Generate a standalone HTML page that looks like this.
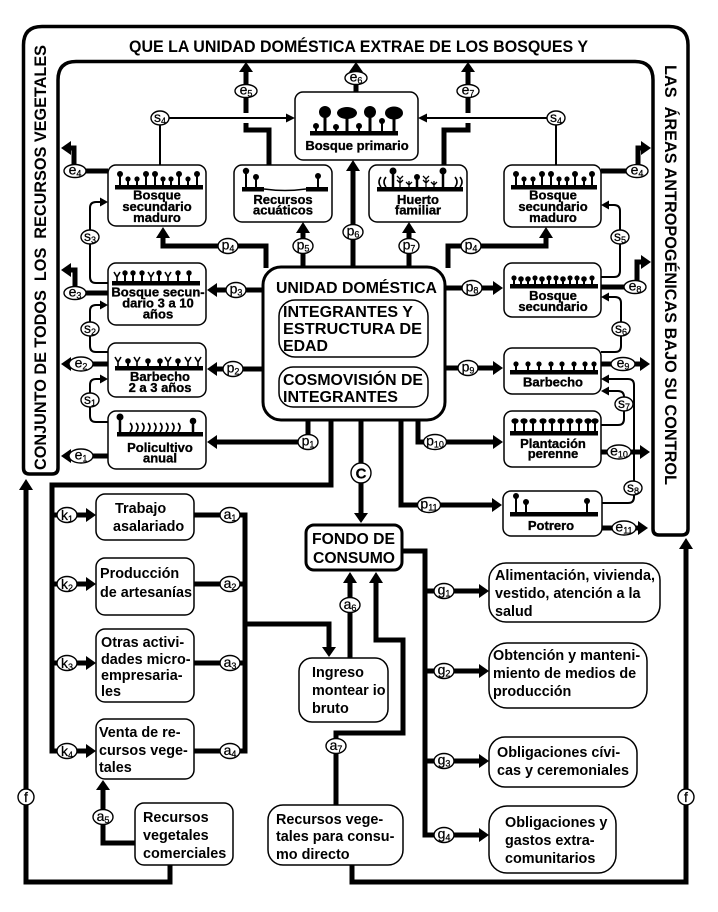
<!DOCTYPE html>
<html><head><meta charset="utf-8">
<style>
html,body{margin:0;padding:0;background:#fff;}
svg{display:block;}
text{font-family:"Liberation Sans",Arial,sans-serif;fill:#000;}
.b{font-weight:bold;}
.hv{font-weight:bold;stroke:#000;stroke-width:0.35;}
.t{stroke:#000;stroke-width:5;fill:none;stroke-linejoin:miter;}
.n{stroke:#000;stroke-width:2;fill:none;}
.bx{fill:#fff;stroke:#000;stroke-width:1.5;}
.lb ellipse,.lb circle{fill:#fff;stroke:#000;stroke-width:1.4;}
.lb text{stroke:#000;stroke-width:0.25;}
</style></head><body>
<svg width="718" height="912" viewBox="0 0 718 912" xmlns="http://www.w3.org/2000/svg">
<defs>
<g id="T"><path d="M0,0V-11" stroke="#000" stroke-width="2"/><circle cy="-11" r="3"/></g>
<g id="S"><path d="M0,0V-6" stroke="#000" stroke-width="2"/><circle cy="-6" r="2.6"/></g>
<g id="M"><path d="M0,0V-8" stroke="#000" stroke-width="2"/><circle cy="-8" r="2.7"/></g>
<g id="Y"><path d="M0,0V-5M-3,-9L0,-4L3,-9" stroke="#000" stroke-width="1.6" fill="none"/></g>
<g id="P"><path d="M0,0V-10" stroke="#000" stroke-width="2"/><ellipse cy="-10" rx="3.6" ry="2.8"/></g>
<g id="B"><path d="M0,0V-5" stroke="#000" stroke-width="2"/><circle cy="-5" r="2.8"/></g>
</defs>

<!-- FRAME -->
<path d="M58,468 L58,80 Q58,61.5 76,61.5 L635,61.5 Q653,61.5 653,80 L653,529 Q653,535 659,535 L682,535 Q688,535 688,529 L688,45 Q688,26.5 669,26.5 L42,26.5 Q23.5,26.5 23.5,45 L23.5,468 Q23.5,474 29.5,474 L52,474 Q58,474 58,468 Z" fill="none" stroke="#000" stroke-width="3.5"/>
<text x="129" y="52" font-size="16.5" class="b" textLength="459" lengthAdjust="spacingAndGlyphs">QUE LA UNIDAD DOMÉSTICA EXTRAE DE LOS BOSQUES Y</text>
<text transform="translate(46,470) rotate(-90)" font-size="16.5" class="b" textLength="425" lengthAdjust="spacingAndGlyphs" xml:space="preserve">CONJUNTO DE TODOS  LOS  RECURSOS VEGETALES</text>
<text transform="translate(665,65) rotate(90)" font-size="16.5" class="b" textLength="420" lengthAdjust="spacingAndGlyphs" xml:space="preserve">LAS  ÁREAS ANTROPOGÉNICAS BAJO SU CONTROL</text>

<!-- BOXES -->
<rect class="bx" x="295" y="92" width="123" height="68" rx="8"/>
<rect class="bx" x="234" y="165" width="98" height="57" rx="8"/>
<rect class="bx" x="369" y="165" width="98" height="57" rx="8"/>
<rect class="bx" x="108" y="165" width="98" height="61" rx="8"/>
<rect class="bx" x="504" y="165" width="97" height="62" rx="8"/>
<rect class="bx" x="108" y="263" width="98" height="62" rx="8"/>
<rect class="bx" x="108" y="343" width="98" height="54" rx="8"/>
<rect class="bx" x="108" y="411" width="98" height="58" rx="8"/>
<rect class="bx" x="504" y="263" width="97" height="54" rx="8"/>
<rect class="bx" x="504" y="348" width="97" height="46" rx="8"/>
<rect class="bx" x="504" y="411" width="97" height="56" rx="8"/>
<rect class="bx" x="503" y="491" width="99" height="45" rx="8"/>
<rect x="263" y="267" width="182" height="153" rx="18" fill="#fff" stroke="#000" stroke-width="3"/>
<rect class="bx" x="279" y="300" width="149" height="57" rx="16"/>
<rect class="bx" x="279" y="367" width="149" height="40" rx="14"/>
<rect class="bx" x="96" y="494" width="98" height="46" rx="9"/>
<rect class="bx" x="96" y="558" width="98" height="57" rx="9"/>
<rect class="bx" x="96" y="629" width="98" height="73" rx="9"/>
<rect class="bx" x="96" y="719" width="98" height="60" rx="9"/>
<rect class="bx" x="135" y="803" width="98" height="62" rx="9"/>
<rect class="bx" x="299" y="658" width="89" height="64" rx="13"/>
<rect x="306" y="525" width="96" height="45" rx="8" fill="#fff" stroke="#000" stroke-width="3"/>
<rect class="bx" x="268" y="805" width="135" height="60" rx="15"/>
<rect class="bx" x="489" y="563" width="171" height="59" rx="17"/>
<rect class="bx" x="489" y="643" width="158" height="65" rx="18"/>
<rect class="bx" x="489" y="737" width="148" height="50" rx="16"/>
<rect class="bx" x="489" y="806" width="127" height="67" rx="18"/>

<!-- ICONS -->
<rect x="310" y="131" width="88" height="4.5"/>
<path d="M325,131V116M347,131V118M370,131V117M394,131V118" stroke="#000" stroke-width="3"/>
<circle cx="325" cy="112" r="6"/><ellipse cx="347" cy="113" rx="10" ry="6"/><circle cx="370" cy="112" r="6"/><ellipse cx="394" cy="113" rx="9" ry="6.5"/>
<path d="M316,131V126M336,131V127M359,131V126M382,131V121" stroke="#000" stroke-width="2"/>
<circle cx="316" cy="126" r="3"/><circle cx="336" cy="127" r="3"/><circle cx="359" cy="126" r="3"/><circle cx="382" cy="121" r="3"/>
<rect x="242" y="187" width="22" height="4.5"/><rect x="306" y="187" width="22" height="4.5"/>
<path d="M264,189 Q285,192 306,189" stroke="#000" stroke-width="1.6" fill="none"/>
<path d="M246,187V171M256,187V177M318,187V176" stroke="#000" stroke-width="2"/>
<circle cx="246" cy="171" r="3.2"/><circle cx="256" cy="177" r="3"/><circle cx="318" cy="176" r="3"/>
<rect x="377" y="187" width="86" height="4.5"/>
<path d="M393,187V171M417,187V177M443,187V171" stroke="#000" stroke-width="2.5"/>
<circle cx="393" cy="171" r="3.5"/><circle cx="417" cy="177" r="3"/><circle cx="443" cy="171" r="3.5"/>
<path d="M400,187V178M397,180L400,183L403,180M397,176L400,179L403,176M409,187V181M406,182L409,185L412,182M426,187V178M423,180L426,183L429,180M423,176L426,179L429,176M434,187V181M431,182L434,185L437,182" stroke="#000" stroke-width="1.3" fill="none"/>
<path d="M381,177Q377,182 381,187M386,177Q382,182 386,187M455,177Q459,182 455,187M460,177Q464,182 460,187" stroke="#000" stroke-width="1.6" fill="none"/>
<rect x="115" y="185" width="88" height="4.5"/>
<use href="#T" x="120" y="185"/><use href="#S" x="128" y="185"/><use href="#S" x="137" y="185"/><use href="#T" x="146" y="185"/><use href="#T" x="155" y="185"/><use href="#S" x="163" y="185"/><use href="#S" x="171" y="185"/><use href="#T" x="179" y="185"/><use href="#S" x="188" y="185"/><use href="#T" x="197" y="185"/>
<rect x="511" y="185" width="86" height="4.5"/>
<use href="#T" x="516" y="185"/><use href="#S" x="524" y="185"/><use href="#S" x="533" y="185"/><use href="#T" x="542" y="185"/><use href="#T" x="551" y="185"/><use href="#S" x="559" y="185"/><use href="#S" x="567" y="185"/><use href="#T" x="575" y="185"/><use href="#S" x="584" y="185"/><use href="#T" x="592" y="185"/>
<rect x="112" y="281" width="88" height="4.5"/>
<use href="#Y" x="117" y="281"/><use href="#M" x="125" y="281"/><use href="#M" x="133" y="281"/><use href="#M" x="142" y="281"/><use href="#Y" x="151" y="281"/><use href="#M" x="159" y="281"/><use href="#Y" x="168" y="281"/><use href="#M" x="178" y="281"/><use href="#M" x="189" y="281"/>
<rect x="115" y="366" width="88" height="4.5"/>
<use href="#Y" x="118" y="366"/><use href="#B" x="128" y="366"/><use href="#Y" x="137" y="366"/><use href="#B" x="148" y="366"/><use href="#B" x="160" y="366"/><use href="#Y" x="168" y="366"/><use href="#B" x="178" y="366"/><use href="#Y" x="188" y="366"/><use href="#Y" x="198" y="366"/>
<rect x="117" y="432" width="86" height="4.5"/>
<path d="M120,432V417M193,432V422" stroke="#000" stroke-width="2.5"/>
<circle cx="120" cy="417" r="3.5"/><circle cx="193" cy="421" r="3.3"/>
<path d="M130,423q4,4 0,9M136,423q4,4 0,9M142,423q4,4 0,9M148,423q4,4 0,9M154,423q4,4 0,9M160,423q4,4 0,9M166,423q4,4 0,9M172,423q4,4 0,9M178,423q4,4 0,9" stroke="#000" stroke-width="1.6" fill="none"/>
<rect x="510" y="284" width="88" height="4.5"/>
<use href="#S" x="514" y="284"/><use href="#B" x="521" y="284"/><use href="#B" x="528" y="284"/><use href="#S" x="535" y="284"/><use href="#B" x="542" y="284"/><use href="#S" x="549" y="284"/><use href="#S" x="556" y="284"/><use href="#B" x="563" y="284"/><use href="#S" x="570" y="284"/><use href="#S" x="577" y="284"/><use href="#B" x="584" y="284"/><use href="#S" x="592" y="284"/>
<rect x="510" y="370" width="88" height="4.5"/>
<use href="#S" x="516" y="370"/><use href="#S" x="528" y="370"/><use href="#S" x="539" y="370"/><use href="#S" x="551" y="370"/><use href="#S" x="562" y="370"/><use href="#S" x="574" y="370"/><use href="#S" x="585" y="370"/><use href="#S" x="594" y="370"/>
<rect x="510" y="431" width="88" height="4.5"/>
<use href="#P" x="515" y="431"/><use href="#P" x="524" y="431"/><use href="#P" x="533" y="431"/><use href="#P" x="543" y="431"/><use href="#P" x="552" y="431"/><use href="#P" x="561" y="431"/><use href="#P" x="570" y="431"/><use href="#P" x="579" y="431"/><use href="#P" x="588" y="431"/><use href="#P" x="595" y="431"/>
<rect x="510" y="512" width="88" height="4.5"/>
<path d="M516,512V496M526,512V502M587,512V502" stroke="#000" stroke-width="2"/>
<circle cx="516" cy="496" r="3"/><circle cx="526" cy="502" r="3"/><circle cx="587" cy="501" r="3"/>

<!-- BOX TEXT (top area) -->
<g class="hv" font-size="13" text-anchor="middle">
<text x="357" y="150">Bosque primario</text>
<text x="283" y="204">Recursos</text><text x="283" y="214.5">acuáticos</text>
<text x="418" y="204">Huerto</text><text x="418" y="214.5">familiar</text>
<text x="157" y="199.5">Bosque</text><text x="157" y="211">secundario</text><text x="157" y="222">maduro</text>
<text x="553" y="199.5">Bosque</text><text x="553" y="211">secundario</text><text x="553" y="222">maduro</text>
<text x="158" y="296.5">Bosque secun-</text><text x="158" y="307.5">dario 3 a 10</text><text x="158" y="318.5">años</text>
<text x="160" y="381">Barbecho</text><text x="160" y="392">2 a 3 años</text>
<text x="160" y="452">Policultivo</text><text x="160" y="462.5">anual</text>
<text x="553" y="300">Bosque</text><text x="553" y="311">secundario</text>
<text x="553" y="386.5">Barbecho</text>
<text x="553" y="448">Plantación</text><text x="553" y="458">perenne</text>
<text x="551" y="530">Potrero</text>
</g>

<g class="b">
<text x="276" y="293" font-size="16" textLength="161" lengthAdjust="spacingAndGlyphs">UNIDAD DOMÉSTICA</text>
<text x="283" y="317" font-size="16" textLength="130" lengthAdjust="spacingAndGlyphs">INTEGRANTES Y</text>
<text x="283" y="334" font-size="16" textLength="139" lengthAdjust="spacingAndGlyphs">ESTRUCTURA DE</text>
<text x="283" y="351" font-size="16" textLength="45" lengthAdjust="spacingAndGlyphs">EDAD</text>
<text x="283" y="385" font-size="16" textLength="140" lengthAdjust="spacingAndGlyphs">COSMOVISIÓN DE</text>
<text x="283" y="402" font-size="16" textLength="115" lengthAdjust="spacingAndGlyphs">INTEGRANTES</text>
<text x="312" y="544" font-size="16" textLength="83" lengthAdjust="spacingAndGlyphs">FONDO DE</text>
<text x="313" y="563" font-size="16" textLength="82" lengthAdjust="spacingAndGlyphs">CONSUMO</text>
</g>

<g class="b" font-size="14.4">
<text x="115" y="513">Trabajo</text><text x="113" y="531">asalariado</text>
<text x="100" y="578">Producción</text><text x="100" y="597">de artesanías</text>
<text x="101" y="647">Otras activi-</text><text x="101" y="664">dades micro-</text><text x="101" y="680">empresaria-</text><text x="101" y="696">les</text>
<text x="99" y="737">Venta de re-</text><text x="99" y="755">cursos vege-</text><text x="99" y="772">tales</text>
<text x="143" y="822">Recursos</text><text x="143" y="840">vegetales</text><text x="143" y="858">comerciales</text>
<text x="312" y="677">Ingreso</text><text x="312" y="695">montear io</text><text x="312" y="713">bruto</text>
<text x="276" y="824">Recursos vege-</text><text x="276" y="841">tales para consu-</text><text x="276" y="859">mo directo</text>
<text x="495" y="580">Alimentación, vivienda,</text><text x="495" y="598">vestido, atención a la</text><text x="495" y="616">salud</text>
<text x="493" y="660">Obtención y manteni-</text><text x="493" y="678">miento de medios de</text><text x="493" y="696">producción</text>
<text x="497" y="757">Obligaciones cívi-</text><text x="497" y="775">cas y ceremoniales</text>
<text x="505" y="827">Obligaciones y</text><text x="505" y="845">gastos extra-</text><text x="505" y="863">comunitarios</text>
</g>

<!-- THICK CONNECTORS -->
<g class="t">
<path d="M356,92V71"/>
<path d="M269,165V130H246V123"/><path d="M246,113V71"/>
<path d="M444,165V130H468V123"/><path d="M468,113V71"/>
<path d="M353,267V170"/>
<path d="M303,267V232"/>
<path d="M409,267V232"/>
<path d="M266,268V246H163V237"/>
<path d="M448,268V246H546V237"/>
<path d="M108,171H86"/><path d="M74,166V148H70"/>
<path d="M601,171H626"/><path d="M638,166V148H642"/>
<path d="M108,293H86"/><path d="M75,288V270H70"/>
<path d="M108,364H93"/>
<path d="M108,456H93"/>
<path d="M601,287H624"/><path d="M637,282V262H642"/>
<path d="M601,364H611"/><path d="M635,364H641"/>
<path d="M601,452H607"/><path d="M631,452H641"/>
<path d="M602,528H613"/><path d="M636,528H640"/>
<path d="M263,290H216"/>
<path d="M263,369H216"/>
<path d="M308,420V442H216"/>
<path d="M445,288H494"/>
<path d="M445,368H494"/>
<path d="M418,420V442H494"/>
<path d="M401,420V505H493"/>
<path d="M361,420V513"/>
<path d="M331,420V485H52V751H87"/>
<path d="M52,515H87"/><path d="M52,584H87"/><path d="M52,663H87"/>
<path d="M194,515H245V751H194"/>
<path d="M194,584H245"/><path d="M194,663H245"/>
<path d="M245,624H329V648"/>
<path d="M350,658V583"/>
<path d="M336,805V733H403V640H376V583"/>
<path d="M402,551H425V835H480"/>
<path d="M425,591H480"/><path d="M425,671H480"/><path d="M425,761H480"/>
<path d="M170,865V882H26V489"/>
<path d="M352,865V882H686V548"/>
<path d="M135,843H103V789"/>
</g>
<g fill="#000">
<polygon points="356,62 349,72 363,72"/>
<polygon points="246,62 239,72 253,72"/>
<polygon points="468,62 461,72 475,72"/>
<polygon points="353,160 346,171 360,171"/>
<polygon points="303,222 296,233 310,233"/>
<polygon points="409,222 402,233 416,233"/>
<polygon points="163,227 156,238 170,238"/>
<polygon points="546,227 539,238 553,238"/>
<polygon points="61,148 71,141 71,155"/>
<polygon points="651,148 641,141 641,155"/>
<polygon points="61,270 71,263 71,277"/>
<polygon points="61,364 71,357 71,371"/>
<polygon points="61,456 71,449 71,463"/>
<polygon points="651,262 641,255 641,269"/>
<polygon points="650,364 640,357 640,371"/>
<polygon points="650,452 640,445 640,459"/>
<polygon points="648,528 638,521 638,535"/>
<polygon points="207,290 217,283 217,297"/>
<polygon points="207,369 217,362 217,376"/>
<polygon points="207,442 217,435 217,449"/>
<polygon points="503,288 493,281 493,295"/>
<polygon points="503,368 493,361 493,375"/>
<polygon points="503,442 493,435 493,449"/>
<polygon points="502,505 492,498 492,512"/>
<polygon points="361,523 354,513 368,513"/>
<polygon points="96,515 86,508 86,522"/>
<polygon points="96,584 86,577 86,591"/>
<polygon points="96,663 86,656 86,670"/>
<polygon points="96,751 86,744 86,758"/>
<polygon points="329,657 322,647 336,647"/>
<polygon points="350,572 343,583 357,583"/>
<polygon points="376,572 369,583 383,583"/>
<polygon points="489,591 479,584 479,598"/>
<polygon points="489,671 479,664 479,678"/>
<polygon points="489,761 479,754 479,768"/>
<polygon points="489,835 479,828 479,842"/>
<polygon points="26,479 19,490 33,490"/>
<polygon points="686,538 679,549 693,549"/>
<polygon points="103,780 96,790 110,790"/>
</g>

<!-- THIN CONNECTORS -->
<g class="n">
<path d="M160,165V118H287"/>
<path d="M556,165V118H427"/>
<path d="M108,283H96Q90,283 90,277V208Q90,202 96,202H101"/>
<path d="M108,352H96Q90,352 90,346V311Q90,305 96,305H101"/>
<path d="M108,422H96Q90,422 90,416V385Q90,379 96,379H101"/>
<path d="M601,277H614Q620,277 620,271V211Q620,205 614,205H609"/>
<path d="M601,352H615Q621,352 621,346V303Q621,297 615,297H609"/>
<path d="M601,425H618Q624,425 624,419V397Q624,391 618,391H609"/>
<path d="M602,503H628Q634,503 634,497V385Q634,379 628,379H609"/>
</g>
<g fill="#000">
<polygon points="295,118 286,113.5 286,122.5"/>
<polygon points="418,118 427,113.5 427,122.5"/>
<polygon points="108,202 100,197.5 100,206.5"/>
<polygon points="108,305 100,300.5 100,309.5"/>
<polygon points="108,379 100,374.5 100,383.5"/>
<polygon points="601,205 609,200.5 609,209.5"/>
<polygon points="601,297 609,292.5 609,301.5"/>
<polygon points="601,391 609,386.5 609,395.5"/>
<polygon points="601,379 609,374.5 609,383.5"/>
</g>

<!-- LABELS -->
<g class="lb" font-size="14" text-anchor="middle">
<g><ellipse cx="356" cy="78" rx="11" ry="6.5"/><text x="356" y="81.5">e<tspan font-size="9" dy="2">6</tspan></text></g>
<g><ellipse cx="246" cy="91" rx="11" ry="6.5"/><text x="246" y="94.5">e<tspan font-size="9" dy="2">5</tspan></text></g>
<g><ellipse cx="468" cy="91" rx="11" ry="6.5"/><text x="468" y="94.5">e<tspan font-size="9" dy="2">7</tspan></text></g>
<g><ellipse cx="160" cy="118" rx="9" ry="7"/><text x="160" y="122">s<tspan font-size="9" dy="2">4</tspan></text></g>
<g><ellipse cx="556" cy="118" rx="9" ry="7"/><text x="556" y="122">s<tspan font-size="9" dy="2">4</tspan></text></g>
<g><ellipse cx="75" cy="171" rx="11" ry="6.5"/><text x="75" y="174.5">e<tspan font-size="9" dy="2">4</tspan></text></g>
<g><ellipse cx="637" cy="171" rx="11" ry="6.5"/><text x="637" y="174.5">e<tspan font-size="9" dy="2">4</tspan></text></g>
<g><ellipse cx="90" cy="237" rx="9" ry="7"/><text x="90" y="241">s<tspan font-size="9" dy="2">3</tspan></text></g>
<g><ellipse cx="75" cy="293" rx="11" ry="6.5"/><text x="75" y="296.5">e<tspan font-size="9" dy="2">3</tspan></text></g>
<g><ellipse cx="90" cy="329" rx="9" ry="7"/><text x="90" y="333">s<tspan font-size="9" dy="2">2</tspan></text></g>
<g><ellipse cx="81" cy="364" rx="12" ry="7"/><text x="81" y="367.5">e<tspan font-size="9" dy="2">2</tspan></text></g>
<g><ellipse cx="90" cy="400" rx="9" ry="7"/><text x="90" y="404">s<tspan font-size="9" dy="2">1</tspan></text></g>
<g><ellipse cx="81" cy="456" rx="12" ry="7"/><text x="81" y="459.5">e<tspan font-size="9" dy="2">1</tspan></text></g>
<g><ellipse cx="228" cy="246" rx="10" ry="7.5"/><text x="228" y="249.5">p<tspan font-size="9" dy="2">4</tspan></text></g>
<g><ellipse cx="303" cy="246" rx="10" ry="7.5"/><text x="303" y="249.5">p<tspan font-size="9" dy="2">5</tspan></text></g>
<g><ellipse cx="353" cy="232" rx="10" ry="7.5"/><text x="353" y="235.5">p<tspan font-size="9" dy="2">6</tspan></text></g>
<g><ellipse cx="409" cy="246" rx="10" ry="7.5"/><text x="409" y="249.5">p<tspan font-size="9" dy="2">7</tspan></text></g>
<g><ellipse cx="471" cy="246" rx="10" ry="7.5"/><text x="471" y="249.5">p<tspan font-size="9" dy="2">4</tspan></text></g>
<g><ellipse cx="236" cy="290" rx="10" ry="7.5"/><text x="236" y="293.5">p<tspan font-size="9" dy="2">3</tspan></text></g>
<g><ellipse cx="233" cy="369" rx="10" ry="7.5"/><text x="233" y="372.5">p<tspan font-size="9" dy="2">2</tspan></text></g>
<g><ellipse cx="308" cy="442" rx="10" ry="7.5"/><text x="308" y="445.5">p<tspan font-size="9" dy="2">1</tspan></text></g>
<g><ellipse cx="472" cy="288" rx="10" ry="7.5"/><text x="472" y="291.5">p<tspan font-size="9" dy="2">8</tspan></text></g>
<g><ellipse cx="468" cy="368" rx="10" ry="7.5"/><text x="468" y="371.5">p<tspan font-size="9" dy="2">9</tspan></text></g>
<g><ellipse cx="435" cy="442" rx="11.5" ry="7.5"/><text x="435" y="445.5">p<tspan font-size="9" dy="2">10</tspan></text></g>
<g><ellipse cx="429" cy="505" rx="11.5" ry="7.5"/><text x="429" y="508.5">p<tspan font-size="9" dy="2">11</tspan></text></g>
<g><ellipse cx="635" cy="287" rx="11" ry="6.5"/><text x="635" y="290.5">e<tspan font-size="9" dy="2">8</tspan></text></g>
<g><ellipse cx="620" cy="237" rx="9" ry="7"/><text x="620" y="241">s<tspan font-size="9" dy="2">5</tspan></text></g>
<g><ellipse cx="621" cy="329" rx="9" ry="7"/><text x="621" y="333">s<tspan font-size="9" dy="2">6</tspan></text></g>
<g><ellipse cx="623" cy="364" rx="12" ry="6.5"/><text x="623" y="367.5">e<tspan font-size="9" dy="2">9</tspan></text></g>
<g><ellipse cx="624" cy="404" rx="9" ry="7"/><text x="624" y="408">s<tspan font-size="9" dy="2">7</tspan></text></g>
<g><ellipse cx="619" cy="452" rx="12" ry="7"/><text x="619" y="455.5">e<tspan font-size="9" dy="2">10</tspan></text></g>
<g><ellipse cx="633" cy="488" rx="9" ry="7"/><text x="633" y="492">s<tspan font-size="9" dy="2">8</tspan></text></g>
<g><ellipse cx="624" cy="528" rx="12" ry="7"/><text x="624" y="531.5">e<tspan font-size="9" dy="2">11</tspan></text></g>
<g><circle cx="361" cy="473" r="10"/><text x="361" y="478.5" font-size="15" font-weight="bold">C</text></g>
<g><ellipse cx="67" cy="515" rx="10" ry="7.5"/><text x="67" y="520">k<tspan font-size="9" dy="2">1</tspan></text></g>
<g><ellipse cx="67" cy="584" rx="10" ry="7.5"/><text x="67" y="589">k<tspan font-size="9" dy="2">2</tspan></text></g>
<g><ellipse cx="67" cy="663" rx="10" ry="7.5"/><text x="67" y="668">k<tspan font-size="9" dy="2">3</tspan></text></g>
<g><ellipse cx="67" cy="751" rx="10" ry="7.5"/><text x="67" y="756">k<tspan font-size="9" dy="2">4</tspan></text></g>
<g><ellipse cx="230" cy="515" rx="10" ry="7.5"/><text x="230" y="519">a<tspan font-size="9" dy="2">1</tspan></text></g>
<g><ellipse cx="230" cy="584" rx="10" ry="7.5"/><text x="230" y="588">a<tspan font-size="9" dy="2">2</tspan></text></g>
<g><ellipse cx="230" cy="663" rx="10" ry="7.5"/><text x="230" y="667">a<tspan font-size="9" dy="2">3</tspan></text></g>
<g><ellipse cx="230" cy="751" rx="10" ry="7.5"/><text x="230" y="755">a<tspan font-size="9" dy="2">4</tspan></text></g>
<g><ellipse cx="103" cy="817" rx="10" ry="7.5"/><text x="103" y="821">a<tspan font-size="9" dy="2">5</tspan></text></g>
<g><ellipse cx="350" cy="605" rx="10" ry="7.5"/><text x="350" y="609">a<tspan font-size="9" dy="2">6</tspan></text></g>
<g><ellipse cx="336" cy="746" rx="10" ry="7.5"/><text x="336" y="750">a<tspan font-size="9" dy="2">7</tspan></text></g>
<g><ellipse cx="444" cy="591" rx="10" ry="7.5"/><text x="444" y="594.5">g<tspan font-size="9" dy="2">1</tspan></text></g>
<g><ellipse cx="444" cy="671" rx="10" ry="7.5"/><text x="444" y="674.5">g<tspan font-size="9" dy="2">2</tspan></text></g>
<g><ellipse cx="444" cy="761" rx="10" ry="7.5"/><text x="444" y="764.5">g<tspan font-size="9" dy="2">3</tspan></text></g>
<g><ellipse cx="444" cy="835" rx="10" ry="7.5"/><text x="444" y="838.5">g<tspan font-size="9" dy="2">4</tspan></text></g>
<g><circle cx="26" cy="797" r="8"/><text x="26" y="802">f</text></g>
<g><circle cx="686" cy="797" r="8"/><text x="686" y="802">f</text></g>
</g>
</svg>
</body></html>
